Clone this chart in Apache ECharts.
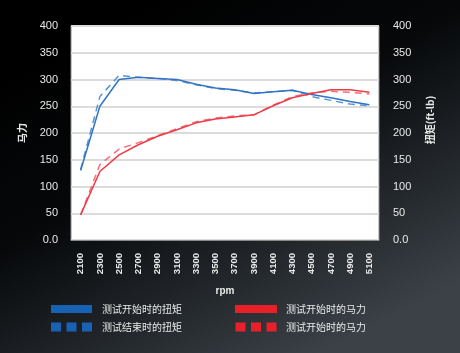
<!DOCTYPE html>
<html>
<head>
<meta charset="utf-8">
<script src="https://cdn.jsdelivr.net/npm/echarts@6/dist/echarts.min.js"></script>
<style>
  html, body { margin: 0; padding: 0; background: #000; }
  #main { width: 460px; height: 353px; }
</style>
</head>
<body>
<div id="main"></div>
<script>
var rpm = ['2100', '2300', '2500', '2700', '2900', '3100', '3300', '3500', '3700', '3900', '4100', '4300', '4500', '4700', '4900', '5100'];
var torqueStart = [130, 250, 300, 304, 302, 300, 291, 284, 281, 274, 277, 280, 272, 266, 259, 253];
var torqueEnd = [132, 268, 308, 304, 302, 298, 290, 283, 280, 275, 277, 280, 268, 261, 254, 251];
var hpStart = [47, 128, 159, 178, 194, 206, 219, 226, 230, 234, 251, 266, 274, 281, 281, 276];
var hpEnd = [47, 141, 170, 182, 195, 208, 221, 228, 232, 234, 252, 268, 275, 278, 276, 273];

var txt = '#e8e8e8';
var dashIcon = 'path://M0,0H10V9H0Z M15.5,0H25.5V9H15.5Z M31,0H41V9H31Z';

var chart = echarts.init(document.getElementById('main'), null, { renderer: 'canvas' });

var yAxisBase = {
  type: 'value',
  min: 0,
  max: 400,
  interval: 50,
  axisLine: { show: false },
  axisTick: { show: false },
  splitLine: { lineStyle: { color: '#dcdcdc', width: 2 } },
  axisLabel: {
    color: txt,
    fontSize: 11,
    fontFamily: 'Liberation Sans',
    formatter: function (v) { return v === 0 ? '0.0' : v; }
  },
  nameLocation: 'middle',
  nameRotate: 90,
  nameGap: 44,
  nameTextStyle: { color: txt, fontSize: 10, fontWeight: 'bold', fontFamily: 'Noto Sans CJK SC' }
};

chart.setOption({
  animation: false,
  backgroundColor: new echarts.graphic.LinearGradient(0.3, 0, 0.7, 1, [
    { offset: 0, color: '#000000' },
    { offset: 0.4, color: '#06080a' },
    { offset: 1, color: '#3b4147' }
  ]),
  grid: {
    left: 71,
    right: 81,
    top: 26,
    bottom: 113,
    show: true,
    backgroundColor: '#ffffff',
    borderColor: '#8a8a8a',
    borderWidth: 1
  },
  legend: [
    {
      orient: 'vertical',
      left: 51,
      top: 304,
      padding: 0,
      itemWidth: 41,
      itemHeight: 9,
      itemGap: 8,
      textStyle: { color: txt, fontSize: 10, fontFamily: 'Noto Sans CJK SC', padding: [0, 0, 0, 5] },
      data: [
        { name: '测试开始时的扭矩', icon: 'path://M0,0.5H41V8.5H0Z', itemStyle: { color: '#1862b3', borderWidth: 0 } },
        { name: '测试结束时的扭矩', icon: dashIcon, itemStyle: { color: '#1862b3', borderWidth: 0 } }
      ]
    },
    {
      orient: 'vertical',
      left: 235,
      top: 304,
      padding: 0,
      itemWidth: 42,
      itemHeight: 9,
      itemGap: 8,
      textStyle: { color: txt, fontSize: 10, fontFamily: 'Noto Sans CJK SC', padding: [0, 0, 0, 4] },
      data: [
        { name: '测试开始时的马力', icon: 'path://M0,0.5H41V8.5H0Z', itemStyle: { color: '#e8202a', borderWidth: 0 } },
        { name: '测试开始时的马力 ', icon: dashIcon, itemStyle: { color: '#e8202a', borderWidth: 0 } }
      ]
    }
  ],
  xAxis: {
    type: 'category',
    data: rpm,
    boundaryGap: true,
    name: 'rpm',
    nameLocation: 'middle',
    nameGap: 46,
    nameTextStyle: { color: txt, fontSize: 10, fontWeight: 'bold', fontFamily: 'Liberation Sans' },
    axisLine: { lineStyle: { color: '#8a8a8a', width: 1 } },
    axisTick: { show: false },
    axisLabel: {
      rotate: 90,
      margin: 13,
      color: txt,
      fontSize: 9.5,
      fontWeight: 'bold',
      fontFamily: 'Liberation Sans',
      interval: 0
    }
  },
  yAxis: [
    Object.assign({}, yAxisBase, { name: '马力', position: 'left', axisLabel: Object.assign({}, yAxisBase.axisLabel, { margin: 13 }) }),
    Object.assign({}, yAxisBase, {
      name: '扭矩(ft-lb)',
      position: 'right',
      nameGap: 46,
      nameTextStyle: Object.assign({}, yAxisBase.nameTextStyle, { padding: [0, 0, 0, 26] }),
      axisLabel: Object.assign({}, yAxisBase.axisLabel, { margin: 14 })
    })
  ],
  series: [
    {
      name: '测试开始时的扭矩',
      type: 'line',
      yAxisIndex: 1,
      data: torqueStart,
      symbol: 'none',
      z: 4,
      lineStyle: { color: '#3174c4', width: 1.5 },
      itemStyle: { color: '#1862b3' }
    },
    {
      name: '测试结束时的扭矩',
      type: 'line',
      yAxisIndex: 1,
      data: torqueEnd,
      symbol: 'none',
      z: 3,
      lineStyle: { color: '#5a96d4', width: 1.5, type: [7, 5] },
      itemStyle: { color: '#1862b3' }
    },
    {
      name: '测试开始时的马力',
      type: 'line',
      yAxisIndex: 0,
      data: hpStart,
      symbol: 'none',
      z: 4,
      lineStyle: { color: '#ee3b47', width: 1.5 },
      itemStyle: { color: '#e8202a' }
    },
    {
      name: '测试开始时的马力 ',
      type: 'line',
      yAxisIndex: 0,
      data: hpEnd,
      symbol: 'none',
      z: 3,
      lineStyle: { color: '#f2717b', width: 1.5, type: [7, 5] },
      itemStyle: { color: '#e8202a' }
    }
  ]
});
</script>
</body>
</html>
